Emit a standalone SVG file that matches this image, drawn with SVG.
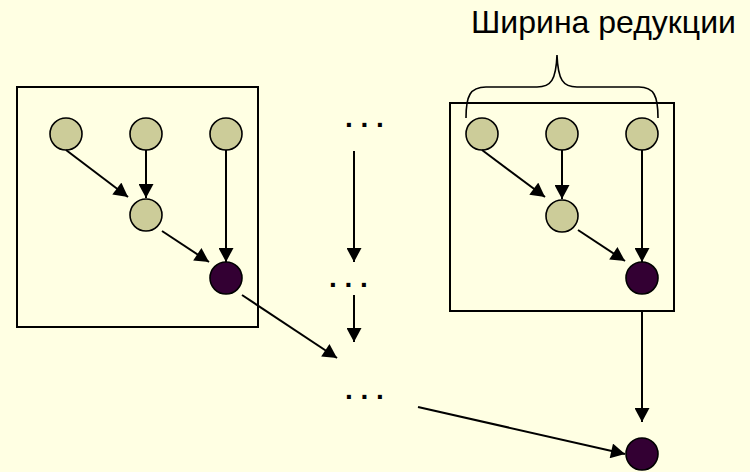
<svg xmlns="http://www.w3.org/2000/svg" width="750" height="472" viewBox="0 0 750 472">
<defs>
<style>
.bg{fill:#FFFFE3}
.box{fill:none;stroke:#000;stroke-width:2}
.lt{fill:#CCCC99;stroke:#000;stroke-width:1.6}
.dk{fill:#330033;stroke:#000;stroke-width:1.6}
.ed{stroke:#000;stroke-width:2;fill:none;marker-end:url(#ah)}
.dots{font-family:"Liberation Sans",Arial,sans-serif;font-weight:bold;font-size:28px;fill:#000}
.lbl{font-family:"Liberation Sans",Arial,sans-serif;font-size:32px;fill:#000}
</style>
<marker id="ah" markerUnits="userSpaceOnUse" markerWidth="15" markerHeight="15" viewBox="0 0 14 15" refX="14" refY="7.5" orient="auto">
<path d="M0,0 L14,7.5 L0,15 Z" fill="#000"/>
</marker>
</defs>
<rect class="bg" x="0" y="0" width="750" height="472"/>

<g id="box-left"><rect class="box" x="17" y="87" width="241" height="240"/></g>
<g id="box-right"><rect class="box" x="450" y="103" width="224" height="208"/></g>

<g id="l1"><circle class="lt" cx="66" cy="134" r="16"/></g>
<g id="l2"><circle class="lt" cx="146" cy="134" r="16"/></g>
<g id="l3"><circle class="lt" cx="226" cy="134" r="16"/></g>
<g id="l4"><circle class="lt" cx="146" cy="215" r="16"/></g>
<g id="l5"><circle class="dk" cx="226" cy="278" r="16"/></g>

<g id="r1"><circle class="lt" cx="482" cy="134" r="16"/></g>
<g id="r2"><circle class="lt" cx="562" cy="134" r="16"/></g>
<g id="r3"><circle class="lt" cx="642" cy="134" r="16"/></g>
<g id="r4"><circle class="lt" cx="562" cy="216" r="16"/></g>
<g id="r5"><circle class="dk" cx="642" cy="278" r="16"/></g>

<g id="final"><circle class="dk" cx="642" cy="454" r="16"/></g>

<g id="dots1"><text class="dots" x="345" y="127">. . .</text></g>
<g id="dots2"><text class="dots" x="329" y="287">. . .</text></g>
<g id="dots3"><text class="dots" x="345" y="399">. . .</text></g>

<g id="label">
<path d="M466,118 C466,96 470,87 486,87 L537,87 C551,87 556,80 557,55 C558,80 563,87 577,87 L639,87 C654,87 658,96 658,118" fill="none" stroke="#000" stroke-width="1.6"/>
<text class="lbl" x="471" y="33">Ширина редукции</text>
</g>

<g id="connectors">
<line class="ed" x1="66" y1="150" x2="128" y2="197"/>
<line class="ed" x1="146" y1="150" x2="146" y2="198"/>
<line class="ed" x1="162" y1="231" x2="209" y2="262"/>
<line class="ed" x1="226" y1="150" x2="226" y2="262"/>
<line class="ed" x1="242" y1="295" x2="337" y2="358"/>
<line class="ed" x1="354" y1="151" x2="354" y2="262"/>
<line class="ed" x1="354" y1="295" x2="354" y2="342"/>
<line class="ed" x1="482" y1="150" x2="545" y2="197"/>
<line class="ed" x1="562" y1="150" x2="562" y2="199"/>
<line class="ed" x1="578" y1="230" x2="625" y2="261"/>
<line class="ed" x1="642" y1="150" x2="642" y2="262"/>
<line class="ed" x1="642" y1="311" x2="642" y2="422"/>
<line class="ed" x1="418" y1="407" x2="625" y2="454"/>
</g>
</svg>
